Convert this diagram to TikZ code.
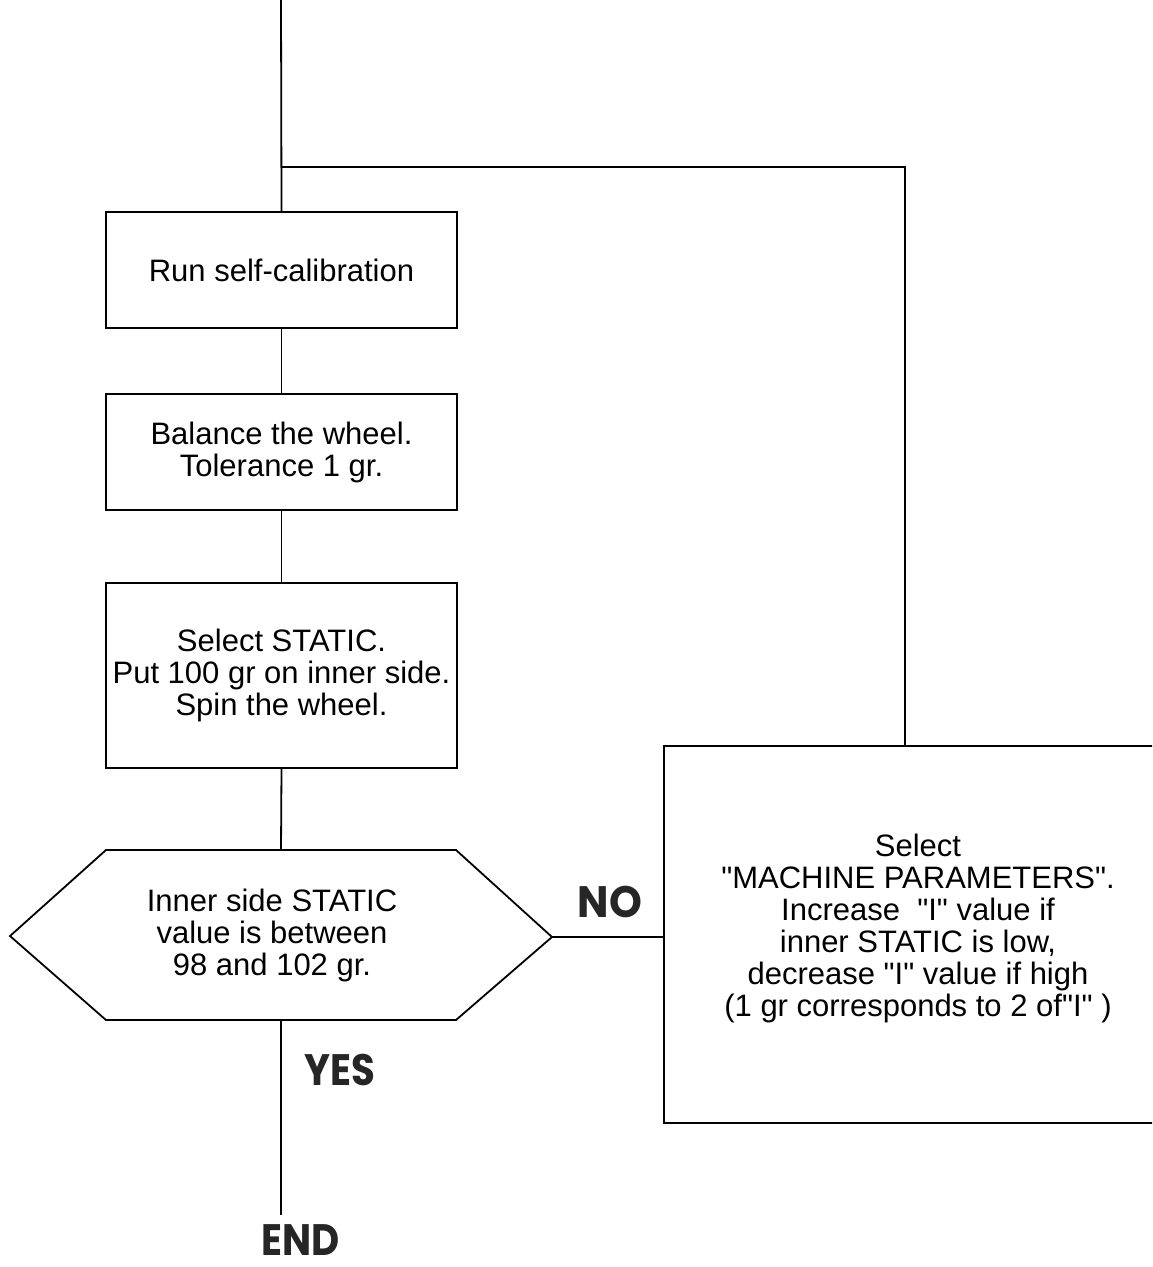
\documentclass[tikz,border=0pt]{standalone}
\usepackage{fontspec}
\usepackage{graphicx}
\setmainfont{Liberation Sans}
\newfontfamily\bodyfont{Liberation Sans}
\newfontfamily\labfont{Poppins}
\tikzset{
  flowline/.style={line width=1.8pt, black},
  procbox/.style={draw, line width=1.8pt, rectangle, minimum width=351pt, align=center, inner sep=0pt,
     font=\bodyfont\fontsize{31}{32}\selectfont},
  bodytext/.style={align=center, inner sep=0pt, font=\bodyfont\fontsize{31}{32}\selectfont},
  answer/.style={inner sep=0pt, font=\labfont\bfseries\fontsize{44}{44}\selectfont, text=black!85}
}
\newcommand{\narrowlab}[2][0.86]{\scalebox{#1}[1]{#2}}
\begin{document}
\begin{tikzpicture}[x=1pt,y=-1pt]
\path[use as bounding box] (0,0) rectangle (1152,1267);
\clip (0,0) rectangle (1152,1267);
\fill[white] (0,0) rectangle (1152,1267);

% process boxes
\node[procbox, minimum height=116pt] (b1) at (281.5,270) {Run self-calibration};
\node[procbox, minimum height=116pt] (b2) at (281.5,452) {Balance the wheel.\\Tolerance 1 gr.};
\node[procbox, minimum height=185pt] (b3) at (281.5,675.5) {Select STATIC.\\Put 100 gr on inner side.\\Spin the wheel.};

% decision hexagon
\coordinate (decL) at (10,936);
\coordinate (decTL) at (106,850);
\coordinate (decTR) at (456,850);
\coordinate (decR) at (552,937);
\coordinate (decBR) at (456,1020);
\coordinate (decBL) at (106,1020);
\coordinate (decT) at (281,850);
\coordinate (decB) at (281,1020);
\draw[flowline, line join=miter] (decL) -- (decTL) -- (decTR) -- (decR) -- (decBR) -- (decBL) -- cycle;
\node[bodytext] (dec) at (272,935) {Inner side STATIC\\value is between\\98 and 102 gr.};

% right box (runs off the right edge)
\node[draw, line width=1.8pt, rectangle, minimum width=507pt, minimum height=377pt, inner sep=0pt,
      anchor=north west] (mp) at (663,745) {};
\node[bodytext] (mptext) at (918,928) {Select\\"MACHINE PARAMETERS".\\Increase~~"I" value if\\inner STATIC is low,\\decrease "I" value if high\\(1 gr corresponds to 2 of"I" )};

% labels
\node[answer] (no) at (610,902) {\narrowlab[0.95]{NO}};
\node[answer] (yes) at (340,1070) {\narrowlab[0.88]{YES}};
\node[answer] (end) at (301,1240) {\narrowlab[0.88]{END}};

% connectors
\coordinate (start) at (281,0);
\coordinate (loopJ) at (281,167);
\coordinate (loopR) at (905,167);
\coordinate (endTop) at (281,1215);
\draw[flowline] (start) -- (b1.north);
\draw[flowline] (b1.south) -- (b2.north);
\draw[flowline] (b2.south) -- (b3.north);
\draw[flowline] (b3.south) -- (decT);
\draw[flowline] (decB) -- (endTop);
\draw[flowline] (decR) -- (decR -| mp.west);
\draw[flowline] (loopR |- mp.north) -- (loopR) -- (loopJ);
\end{tikzpicture}
\end{document}
